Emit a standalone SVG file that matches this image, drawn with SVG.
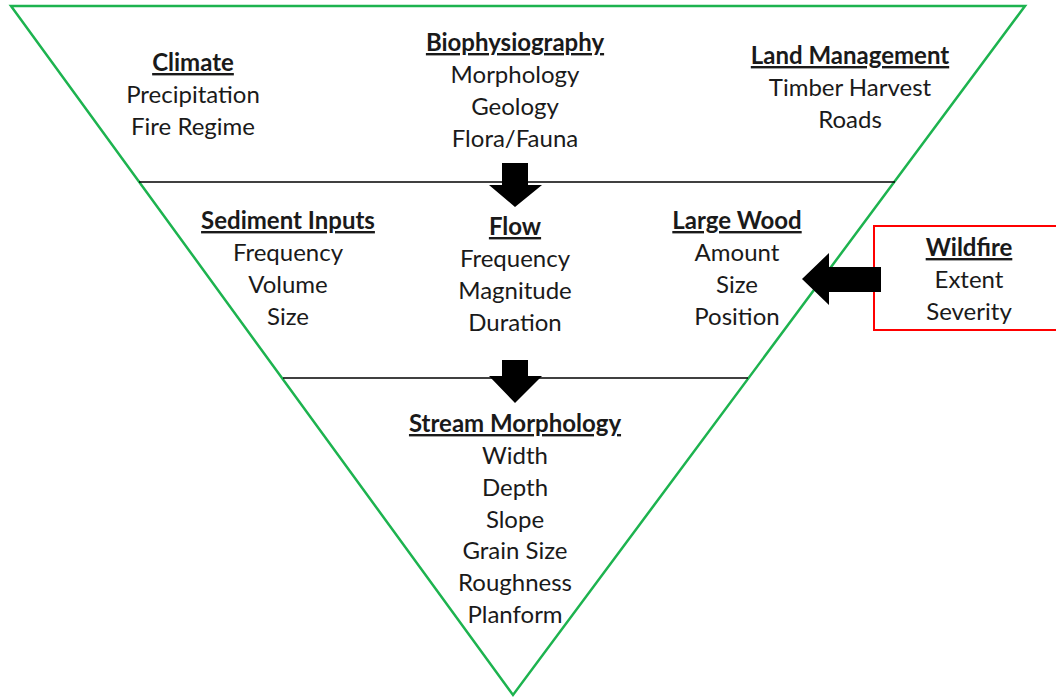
<svg xmlns="http://www.w3.org/2000/svg" width="1056" height="698" viewBox="0 0 1056 698">
<style>
text{font-family:Lato,"Open Sans",sans-serif;font-size:24px;fill:#1a1a1a;text-anchor:middle}
.h{font-weight:bold;text-decoration:underline}
.tri{fill:none;stroke:#1db34f;stroke-width:2.5}
.div{stroke:#000;stroke-width:1.3}
.arr{fill:#000}
</style>
<rect width="1056" height="698" fill="#fff"/>
<g id="frame">
<polygon class="tri" points="11,6 1025,6 513,695"/>
<line class="div" x1="139" y1="182" x2="895" y2="182"/>
<line class="div" x1="283" y1="378" x2="748" y2="378"/>
</g>
<g id="climate"><text class="h" x="193" y="71">Climate</text><text x="193" y="103">Precipitation</text><text x="193" y="135">Fire Regime</text></g>
<g id="biophysiography"><text class="h" x="515" y="51">Biophysiography</text><text x="515" y="83">Morphology</text><text x="515" y="115">Geology</text><text x="515" y="147">Flora/Fauna</text></g>
<g id="land-management"><text class="h" x="850" y="64">Land Management</text><text x="850" y="96">Timber Harvest</text><text x="850" y="128">Roads</text></g>
<g id="sediment-inputs"><text class="h" x="288" y="229">Sediment Inputs</text><text x="288" y="261">Frequency</text><text x="288" y="293">Volume</text><text x="288" y="325">Size</text></g>
<g id="flow"><text class="h" x="515" y="235">Flow</text><text x="515" y="267">Frequency</text><text x="515" y="299">Magnitude</text><text x="515" y="331">Duration</text></g>
<g id="large-wood"><text class="h" x="737" y="229">Large Wood</text><text x="737" y="261">Amount</text><text x="737" y="293">Size</text><text x="737" y="325">Position</text></g>
<g id="wildfire"><rect x="874" y="226" width="184" height="104" fill="#fff" stroke="#ff0000" stroke-width="2"/><text class="h" x="969" y="256">Wildfire</text><text x="969" y="288">Extent</text><text x="969" y="320">Severity</text></g>
<g id="stream-morphology"><text class="h" x="515" y="432">Stream Morphology</text><text x="515" y="464">Width</text><text x="515" y="496">Depth</text><text x="515" y="528">Slope</text><text x="515" y="559">Grain Size</text><text x="515" y="591">Roughness</text><text x="515" y="623">Planform</text></g>
<g id="connectors">
<polygon class="arr" points="502,163 528,163 528,185 542,185 515,207 489,185 502,185"/>
<polygon class="arr" points="502,360 528,360 528,376 542,376 515,403 489,376 502,376"/>
<polygon class="arr" points="881,267 881,292 829,292 829,305 802,279 829,253 829,267"/>
</g>
</svg>
